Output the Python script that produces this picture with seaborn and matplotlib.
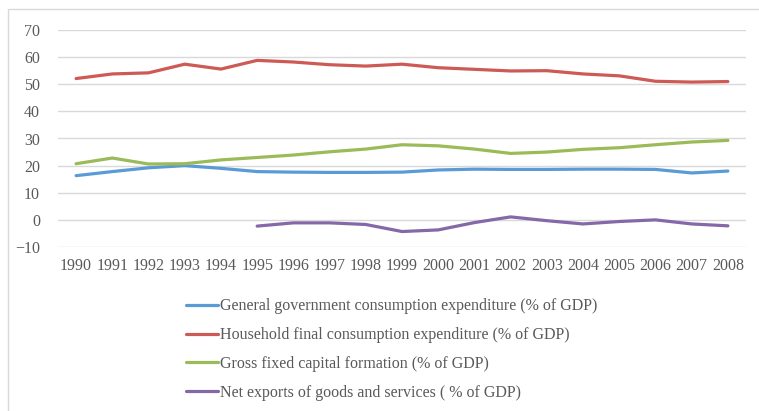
import numpy as np
import pandas as pd
import matplotlib.pyplot as plt
import seaborn as sns
from matplotlib.patches import Rectangle

# data
years = list(range(1990, 2009))
gov_cons = [16.3, 17.8, 19.2, 20.0, 19.0, 17.8, 17.6, 17.5, 17.5, 17.6,
            18.4, 18.7, 18.6, 18.6, 18.7, 18.7, 18.6, 17.3, 18.0]
household_cons = [52.1, 53.8, 54.2, 57.4, 55.6, 58.8, 58.2, 57.2, 56.7, 57.4,
                  56.1, 55.5, 54.9, 55.0, 53.8, 53.1, 51.1, 50.8, 51.0]
gross_capital = [20.7, 22.8, 20.6, 20.7, 22.1, 23.0, 23.9, 25.1, 26.1, 27.7,
                 27.3, 26.1, 24.5, 25.0, 26.0, 26.6, 27.7, 28.7, 29.3]
net_exports = [np.nan] * 5 + [-2.3, -1.1, -1.1, -1.7, -4.3,
                              -3.7, -1.0, 1.1, -0.3, -1.5, -0.6, 0.0, -1.5, -2.2]

labels = ["General government consumption expenditure (% of GDP)",
          "Household final consumption expenditure (% of GDP)",
          "Gross fixed capital formation (% of GDP)",
          "Net exports of goods and services ( % of GDP)"]
colors = ["#5B9BD5", "#CD5A55", "#9BBB59", "#8568A8"]

df = pd.DataFrame({"year": years, labels[0]: gov_cons, labels[1]: household_cons,
                   labels[2]: gross_capital, labels[3]: net_exports})
long_df = df.melt(id_vars="year", var_name="series", value_name="value").dropna()

sns.set_style("white")
plt.rcParams['font.family'] = ['Liberation Serif', 'DejaVu Serif']
text_color = "#595959"
fs = 11.5

fig = plt.figure(figsize=(7.59, 4.11), dpi=100)
ax = fig.add_axes([58 / 759, 1 - 247 / 411, 688 / 759, 217 / 411])

sns.lineplot(data=long_df, x="year", y="value", hue="series", hue_order=labels,
             palette=colors, linewidth=2.3, ax=ax, legend=False)

ax.set_xlim(1989.5, 2008.5)
ax.set_ylim(-10, 70)
ax.set_yticks(range(-10, 71, 10))
ax.set_xticks(years)
ax.set_xticklabels([str(y) for y in years])
ax.set_xlabel("")
ax.set_ylabel("")
ax.yaxis.grid(True, color="#D9D9D9", linewidth=1)
ax.set_axisbelow(True)
for s in ax.spines.values():
    s.set_visible(False)
ax.tick_params(axis="both", length=0, labelsize=fs, labelcolor=text_color)
ax.tick_params(axis="y", pad=13)
ax.tick_params(axis="x", pad=8)

# legend below the plot
handles = [plt.Line2D([], [], color=c, linewidth=2.3) for c in colors]
fig.legend(handles, labels, loc="upper left", bbox_to_anchor=(172 / 759, 1 - 284 / 411),
           frameon=False, fontsize=fs, labelcolor=text_color, handlelength=2.0,
           handletextpad=0.12, labelspacing=0.8)

# light border around chart area
fig.patches.append(Rectangle((8 / 759, -0.1), 1.2, 1 - 9 / 411 + 0.1, transform=fig.transFigure,
                             fill=False, edgecolor="#D9D9D9", linewidth=1))

fig.savefig("out.png", dpi=100)
